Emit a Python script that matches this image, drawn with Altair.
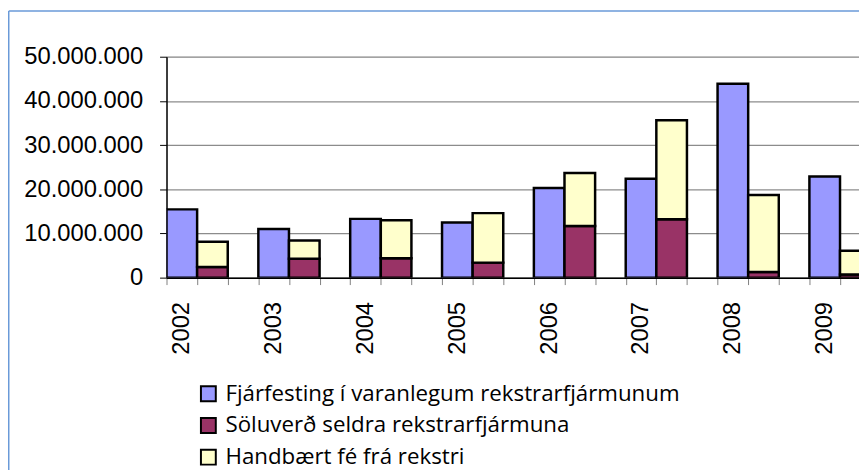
import altair as alt
import pandas as pd

years = ["2002", "2003", "2004", "2005", "2006", "2007", "2008", "2009"]
series_names = [
    "Fjárfesting í varanlegum rekstrarfjármunum",
    "Söluverð seldra rekstrarfjármuna",
    "Handbært fé frá rekstri",
]
series_colors = ["#9999FF", "#993366", "#FFFFCC"]

fjarfesting = [15450000, 11000000, 13300000, 12500000, 20300000, 22400000, 43900000, 22900000]
soluverd = [2400000, 4300000, 4400000, 3400000, 11700000, 13200000, 1300000, 700000]
handbaert = [5700000, 4100000, 8600000, 11200000, 12000000, 22400000, 17400000, 5400000]

y_ticks = [0, 10000000, 20000000, 30000000, 40000000, 50000000]

# slot layout: each year has 3 category slots (investment, stacked, gap)
rows = []
for i, yr in enumerate(years):
    s = 3 * i
    rows.append({"year": yr, "series": series_names[0], "x0": s, "x1": s + 1, "y0": 0, "y1": fjarfesting[i]})
    rows.append({"year": yr, "series": series_names[1], "x0": s + 1, "x1": s + 2, "y0": 0, "y1": soluverd[i]})
    rows.append({"year": yr, "series": series_names[2], "x0": s + 1, "x1": s + 2,
                 "y0": soluverd[i], "y1": soluverd[i] + handbaert[i]})
df = pd.DataFrame(rows)

n_slots = 3 * len(years)
tick_vals = list(range(n_slots))
label_vals = [3 * i + 0.5 for i in range(len(years))]
axis_vals = sorted(tick_vals + label_vals)
label_expr = "".join(f"datum.value == {v} ? '{yr}' : " for v, yr in zip(label_vals, years)) + "''"

x_axis = alt.Axis(
    values=axis_vals,
    labelExpr=label_expr,
    tickOpacity={"condition": {"test": "datum.value % 1 === 0", "value": 1}, "value": 0},
    tickSize=7, tickColor="#808080", tickWidth=1,
    domainColor="#000000", domainWidth=1.5,
    labelFont="Liberation Sans", labelFontSize=24, labelColor="#000000",
    labelAngle=270, labelAlign="right", labelBaseline="middle",
    labelPadding=17, labelOverlap=False, labelFlush=False,
    grid=False, title=None,
)

y_axis = alt.Axis(
    values=y_ticks, format=",d",
    tickSize=7, tickColor="#000000", tickWidth=1,
    domainColor="#000000", domainWidth=1.5,
    labelFont="Liberation Sans", labelFontSize=24, labelColor="#000000",
    labelPadding=17,
    grid=True, gridColor="#8C8C8C", gridWidth=1.3,
    title=None,
)

bars = alt.Chart(df).mark_bar(stroke="black", strokeWidth=2.5, clip=True).encode(
    x=alt.X("x0:Q", scale=alt.Scale(domain=[0, 22.62], nice=False, zero=False), axis=x_axis),
    x2="x1:Q",
    y=alt.Y("y0:Q", scale=alt.Scale(domain=[0, 50000000], nice=False), axis=y_axis),
    y2="y1:Q",
    color=alt.Color(
        "series:N",
        scale=alt.Scale(domain=series_names, range=series_colors),
        legend=alt.Legend(
            orient="none", legendX=31, legendY=329, direction="vertical",
            title=None, symbolType="square", symbolSize=225,
            symbolStrokeColor="black", symbolStrokeWidth=2, symbolOpacity=1,
            labelFont="Open Sans", labelFontSize=22.5, labelColor="#000000",
            labelLimit=800, labelOffset=6, rowPadding=8, padding=0,
        ),
    ),
)

frame = pd.DataFrame({"k": [0]})
top_border = alt.Chart(frame).mark_rule(color="#6A9AD8", strokeWidth=1.5).encode(
    x=alt.value(-159.25), x2=alt.value(699), y=alt.value(-46.25)
)
left_border = alt.Chart(frame).mark_rule(color="#6A9AD8", strokeWidth=1.5).encode(
    x=alt.value(-159.25), y=alt.value(-46.25), y2=alt.value(420)
)

chart = alt.layer(bars, top_border, left_border).properties(
    width=699, height=223,
    autosize=alt.AutoSizeParams(type="none"),
    padding={"left": 160, "top": 47, "right": 0, "bottom": 192},
).configure_view(stroke=None).configure(
    locale={"number": {"decimal": ",", "thousands": ".", "grouping": [3], "currency": ["", ""]}}
)

chart.save("out.html", embed_options={"renderer": "svg", "actions": False})
